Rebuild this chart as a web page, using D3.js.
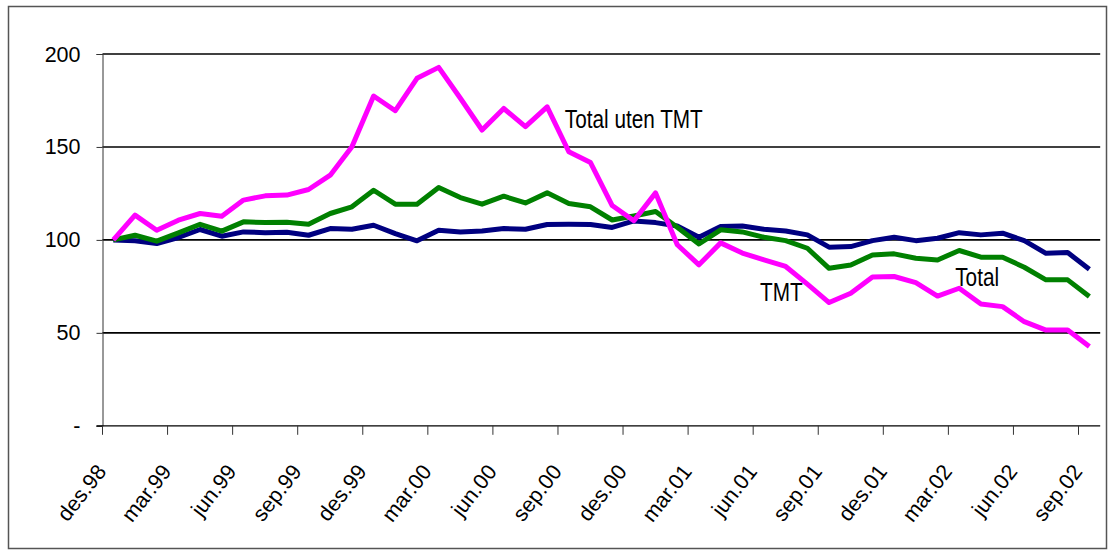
<!DOCTYPE html>
<html><head><meta charset="utf-8">
<script src="https://cdn.jsdelivr.net/npm/d3@7"></script>
<style>
html,body{margin:0;padding:0;background:#fff;}
svg{display:block;font-family:Arial,"Liberation Sans",sans-serif;}
</style></head>
<body><svg id="c" width="1115" height="554"></svg>
<script>
const categories = ["des.98","jan.99","feb.99","mar.99","apr.99","mai.99","jun.99","jul.99","aug.99","sep.99","okt.99","nov.99",
"des.99","jan.00","feb.00","mar.00","apr.00","mai.00","jun.00","jul.00","aug.00","sep.00","okt.00","nov.00",
"des.00","jan.01","feb.01","mar.01","apr.01","mai.01","jun.01","jul.01","aug.01","sep.01","okt.01","nov.01",
"des.01","jan.02","feb.02","mar.02","apr.02","mai.02","jun.02","jul.02","aug.02","sep.02"];
const tickLabels = ["des.98","mar.99","jun.99","sep.99","des.99","mar.00","jun.00","sep.00","des.00","mar.01","jun.01","sep.01","des.01","mar.02","jun.02","sep.02"];
const yTicks = [0,50,100,150,200];
const yTickLabels = ["-","50","100","150","200"];
const tmt = [100,113.3,105.2,110.6,114.2,112.7,121.4,123.7,124.1,127.1,134.8,150.1,177.4,169.5,186.9,192.8,176.2,159.1,170.7,160.9,171.6,147.4,141.6,118.5,110.3,125.3,97.4,86.6,98.4,92.9,89.3,85.7,76.2,66.3,71.3,80.0,80.3,77.0,69.8,74.0,65.5,64.1,56.0,51.5,51.5,42.6];
const total = [100,102.5,99.3,103.8,108.4,104.7,109.7,109.3,109.5,108.4,114.2,117.8,126.7,119.2,119.2,128.2,122.8,119.2,123.5,119.9,125.3,119.6,117.8,110.7,112.9,115.3,106.8,97.8,105.4,104.3,101.4,99.6,95.5,84.7,86.5,91.9,92.5,90.1,89.2,94.3,90.7,90.7,85.3,78.5,78.5,69.5];
const totalUtenTmt = [100,99.5,98.0,101.3,105.6,102.0,104.3,103.9,104.1,102.5,106.1,105.7,107.9,103.4,99.5,105.2,104.3,104.8,106.1,105.7,108.3,108.4,108.3,106.7,110.2,109.3,107.5,101.4,107.2,107.5,105.7,104.8,102.7,96.1,96.4,99.6,101.4,99.6,100.9,103.9,102.7,103.6,99.6,92.8,93.2,84.2];
const seriesNames = ["Total uten TMT","Total","TMT"];
const labelText = ["Total uten TMT","TMT","Total"];
const labelCat = ["sep.00","jun.01","mar.02"];
const labelVal = [160.2,67.4,75.3];

const svg = d3.select("#c");
// outer frame
svg.append("rect").attr("x",8.5).attr("y",6.5).attr("width",1098).attr("height",542)
  .attr("fill","none").attr("stroke","#555").attr("stroke-width",1.5);

const x = d3.scaleBand().domain(categories).range([102.5,1100.2]).padding(0);
const y = d3.scaleLinear().domain([0,200]).range([425.8,54]);
const cx = c => x(c) + x.bandwidth()/2;

// gridlines
svg.append("g").selectAll("line").data(yTicks.filter(d=>d>0)).join("line")
  .attr("x1",102.5).attr("x2",1100.2).attr("y1",d=>y(d)).attr("y2",d=>y(d))
  .attr("stroke","#000").attr("stroke-width",1.6);

// y axis
const yAxis = d3.axisLeft(y).tickValues(yTicks).tickSize(6).tickPadding(16)
  .tickFormat((d,i)=>yTickLabels[i]);
const gy = svg.append("g").attr("transform","translate(102.5,0)").call(yAxis);
gy.select(".domain").attr("stroke","#333").attr("stroke-width",1);
gy.selectAll(".tick line").attr("stroke","#333");
gy.selectAll(".tick text").attr("font-size",21.5).attr("fill","#000")
  .attr("font-family","Arial, 'Liberation Sans', sans-serif")
  .attr("dy",null).attr("dominant-baseline","central");

// x axis
const gx = svg.append("g").attr("transform",`translate(0,${y(0)})`);
gx.append("line").attr("x1",96.5).attr("x2",1100.2).attr("y1",0).attr("y2",0).attr("stroke","#000").attr("stroke-width",1.2);
gx.selectAll("line.tk").data(tickLabels).join("line").attr("class","tk")
  .attr("x1",d=>x(d)).attr("x2",d=>x(d)).attr("y1",0).attr("y2",9).attr("stroke","#333");
gx.selectAll("text").data(tickLabels).join("text")
  .attr("transform",d=>`translate(${cx(d)-6},46) rotate(-52)`)
  .attr("text-anchor","end").attr("font-size",21.5).attr("fill","#000").text(d=>d);

// lines
const line = d3.line().x((d,i)=>cx(categories[i])).y(d=>y(d));
const series = [totalUtenTmt,total,tmt];
const colors = ["#000080","#008000","#FF00FF"];
svg.append("g").selectAll("path").data(series).join("path")
  .attr("d",d=>line(d)).attr("fill","none").attr("stroke",(d,i)=>colors[i])
  .attr("stroke-width",5).attr("stroke-linejoin","round").attr("stroke-linecap","butt");

// labels
svg.append("g").selectAll("text").data(labelText).join("text")
  .attr("transform",(d,i)=>`translate(${cx(labelCat[i])-4},${y(labelVal[i])}) scale(0.83,1)`)
  .attr("font-size",25).attr("fill","#000").text(d=>d);
</script></body></html>
